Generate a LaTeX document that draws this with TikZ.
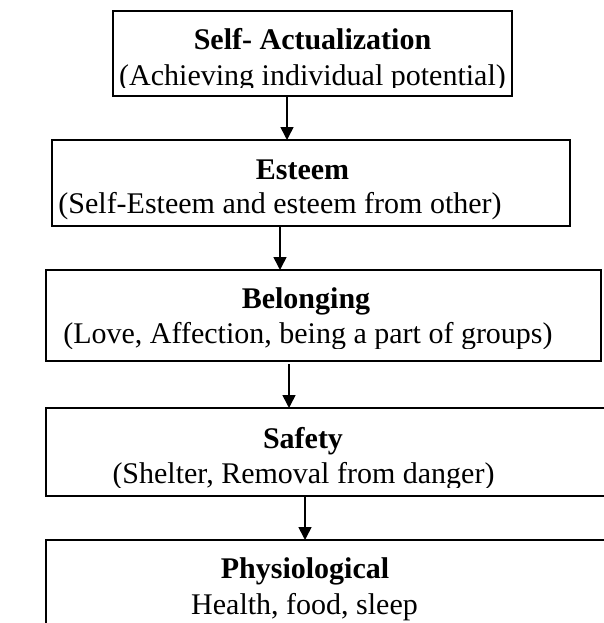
\documentclass[tikz,border=0pt]{standalone}
\usepackage{fontspec}
\setmainfont{Liberation Serif}
\usetikzlibrary{arrows.meta}
\begin{document}
\begin{tikzpicture}[x=1pt,y=-1pt,
  boxnode/.style={draw=black,line width=1.6pt,rectangle,inner sep=0pt,outer sep=0pt},
  ttl/.style={font=\fontsize{30}{36}\selectfont\bfseries,anchor=base,inner sep=0pt},
  sub/.style={font=\fontsize{30}{36}\selectfont,anchor=base,inner sep=0pt},
  arr/.style={line width=1.6pt,-{Triangle[width=13pt,length=13pt]}}]
\clip (0,0) rectangle (604,623);
\fill[white] (0,0) rectangle (604,623);
% boxes
\node[boxnode,minimum width=399pt,minimum height=85pt] (b1) at (312.5,53.5) {};
\node[boxnode,minimum width=518pt,minimum height=86pt] (b2) at (311,183) {};
\node[boxnode,minimum width=555pt,minimum height=91pt] (b3) at (323.5,315.5) {};
\node[boxnode,minimum width=594pt,minimum height=88pt] (b4) at (343,452) {};
\node[boxnode,minimum width=594pt,minimum height=140pt] (b5) at (343,610) {};
% texts (clipped inside the boxes)
\begin{scope}
\clip (b1.north west) rectangle ([yshift=8pt]b1.south east);
\node[ttl] (t1) at (312.5,50) {Self- Actualization};
\node[sub] (s1) at (312.5,86) {(Achieving individual potential)};
\end{scope}
\begin{scope}
\clip (b2.north west) rectangle ([yshift=7pt]b2.south east);
\node[ttl] (t2) at (302.5,179) {Esteem};
\node[sub] (s2) at (280,213) {(Self-Esteem and esteem from other)};
\end{scope}
\begin{scope}
\clip (b3.north west) rectangle ([yshift=13pt]b3.south east);
\node[ttl] (t3) at (306,308) {Belonging};
\node[sub] (s3) at (308,343) {(Love, Affection, being a part of groups)};
\end{scope}
\begin{scope}
\clip (b4.north west) rectangle ([yshift=9pt]b4.south east);
\node[ttl] (t4) at (303,448) {Safety};
\node[sub] (s4) at (303.5,483) {(Shelter, Removal from danger)};
\end{scope}
\node[ttl] (t5) at (305,578) {Physiological};
\node[sub] (s5) at (304.5,614) {Health, food, sleep};
% arrows
\coordinate (c1) at (287,0);
\coordinate (c2) at (280,0);
\coordinate (c3) at (289,0);
\coordinate (c4) at (305,0);
\draw[arr] (b1.south -| c1) -- (b2.north -| c1);
\draw[arr] (b2.south -| c2) -- (b3.north -| c2);
\draw[arr] ([yshift=-3pt]b3.south -| c3) -- (b4.north -| c3);
\draw[arr] (b4.south -| c4) -- (b5.north -| c4);
\end{tikzpicture}
\end{document}
